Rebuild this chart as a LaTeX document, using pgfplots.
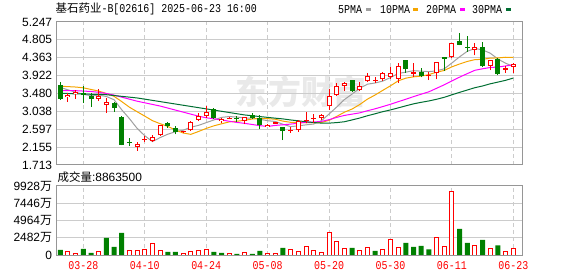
\documentclass[border=0pt]{standalone}
\usepackage{pgfplots}
\pgfplotsset{compat=1.18}
\usepackage{pgfplotstable}
\usepackage{fontspec}
\setmainfont{Liberation Sans}
\newfontfamily\cjk{Noto Sans CJK SC}
\newfontfamily\monof[FakeStretch=0.833]{Liberation Mono}

\definecolor{cred}{RGB}{255,0,0}
\definecolor{cgreen}{RGB}{0,128,0}
\definecolor{cma5}{RGB}{160,160,160}
\definecolor{cma10}{RGB}{245,165,0}
\definecolor{cma20}{RGB}{255,0,255}
\definecolor{cma30}{RGB}{0,110,50}
\definecolor{cgrid}{RGB}{204,204,204}
\definecolor{cframe}{RGB}{150,150,150}
\definecolor{cwm}{RGB}{233,233,233}

% up candles (close >= open): index open high low close
\pgfplotstableread{
i o h l c
1 3.40 3.49 3.28 3.45
2 3.47 3.57 3.35 3.52
5 3.35 3.59 3.29 3.43
6 3.19 3.37 3.01 3.28
10 2.17 2.29 2.06 2.23
11 2.34 2.44 2.28 2.36
12 2.31 2.46 2.29 2.40
13 2.45 2.70 2.44 2.70
16 2.52 2.55 2.50 2.54
17 2.57 2.80 2.55 2.78
18 2.83 2.99 2.80 2.92
19 2.92 3.17 2.88 3.02
21 2.81 2.87 2.74 2.86
22 2.85 2.89 2.84 2.88
24 2.81 2.91 2.72 2.90
27 2.66 2.72 2.65 2.71
28 2.735 2.77 2.73 2.765
30 2.56 2.66 2.51 2.58
31 2.57 2.83 2.54 2.80
32 2.81 3.02 2.74 2.83
33 2.85 2.98 2.75 2.87
34 2.88 2.98 2.83 2.95
35 3.16 3.59 3.08 3.41
36 3.45 3.75 3.42 3.67
37 3.67 3.77 3.55 3.75
39 3.56 3.77 3.55 3.67
40 3.78 3.98 3.77 3.91
41 3.80 3.90 3.75 3.82
42 3.83 4.00 3.80 3.98
43 3.90 4.14 3.85 3.99
44 3.84 4.24 3.75 4.17
46 3.96 4.23 3.90 4.00
48 3.91 4.00 3.81 3.93
49 3.99 4.27 3.83 4.27
51 4.37 4.74 4.35 4.72
54 4.56 4.72 4.42 4.62
56 4.16 4.31 4.06 4.31
58 4.07 4.15 3.99 4.10
59 4.14 4.24 3.98 4.22
}\redk

% down candles (close < open)
\pgfplotstableread{
i o h l c
0 3.69 3.76 3.33 3.35
3 3.49 3.67 3.25 3.45
4 3.43 3.48 3.15 3.35
7 3.24 3.27 3.02 3.12
8 2.91 2.93 2.20 2.21
9 2.28 2.38 2.18 2.26
14 2.74 2.78 2.63 2.68
15 2.62 2.67 2.47 2.54
20 3.10 3.11 2.86 2.87
23 2.88 2.93 2.78 2.86
25 2.95 2.99 2.86 2.87
26 2.87 2.94 2.61 2.70
29 2.64 2.66 2.33 2.55
38 3.81 3.82 3.52 3.55
45 4.30 4.32 3.99 4.08
47 4.02 4.11 3.88 3.92
50 4.37 4.37 4.04 4.33
52 4.77 4.98 4.67 4.68
53 4.62 4.90 4.51 4.615
55 4.62 4.76 4.13 4.15
57 4.33 4.36 3.93 3.96
}\greenk

% moving averages
\pgfplotstableread{
i ma5 ma10 ma20 ma30
0 3.63 3.66 3.55 3.48
1 3.57 3.65 3.55 3.48
2 3.51 3.64 3.55 3.47
3 3.46 3.62 3.54 3.47
4 3.424 3.58 3.53 3.46
5 3.44 3.54 3.51 3.46
6 3.406 3.48 3.48 3.45
7 3.326 3.41 3.44 3.43
8 3.078 3.28 3.39 3.41
9 2.86 3.142 3.34 3.39
10 2.62 3.03 3.29 3.37
11 2.436 2.921 3.25 3.34
12 2.292 2.809 3.21 3.31
13 2.39 2.734 3.17 3.28
14 2.474 2.667 3.12 3.25
15 2.536 2.578 3.07 3.22
16 2.572 2.504 3.02 3.19
17 2.648 2.47 2.97 3.16
18 2.692 2.541 2.92 3.13
19 2.76 2.617 2.880 3.10
20 2.826 2.681 2.856 3.07
21 2.89 2.731 2.826 3.04
22 2.91 2.779 2.794 3.01
23 2.898 2.795 2.765 2.98
24 2.874 2.817 2.742 2.95
25 2.874 2.85 2.714 2.93
26 2.842 2.866 2.685 2.91
27 2.808 2.859 2.665 2.89
28 2.789 2.844 2.692 2.87
29 2.719 2.797 2.707 2.852
30 2.661 2.768 2.724 2.826
31 2.681 2.762 2.746 2.805
32 2.705 2.757 2.768 2.782
33 2.726 2.758 2.776 2.762
34 2.806 2.763 2.790 2.749
35 2.972 2.817 2.833 2.748
36 3.146 2.914 2.890 2.761
37 3.33 3.018 2.938 2.782
38 3.466 3.096 2.970 2.827
39 3.61 3.208 3.002 2.874
40 3.71 3.341 3.054 2.930
41 3.74 3.443 3.102 2.979
42 3.786 3.558 3.157 3.031
43 3.874 3.67 3.214 3.074
44 3.974 3.792 3.277 3.124
45 4.008 3.859 3.338 3.175
46 4.044 3.892 3.403 3.224
47 4.032 3.909 3.463 3.262
48 4.02 3.947 3.522 3.296
49 4.04 4.007 3.608 3.337
50 4.09 4.049 3.695 3.386
51 4.234 4.139 3.791 3.448
52 4.386 4.209 3.884 3.508
53 4.523 4.272 3.971 3.566
54 4.593 4.317 4.054 3.624
55 4.557 4.324 4.091 3.666
56 4.475 4.355 4.123 3.720
57 4.331 4.359 4.134 3.762
58 4.228 4.376 4.161 3.806
59 4.148 4.371 4.189 3.862
}\matab

% volume (in 10k shares)
\pgfplotstableread{
i v
1 434
2 145
5 434
9 675
10 578
11 723
12 1591
13 675
16 145
17 434
18 675
19 819
22 145
24 289
27 145
28 145
30 819
31 530
32 1253
33 675
34 289
35 3278
36 1976
37 964
39 675
40 1109
42 819
43 2265
44 1109
49 2555
50 1253
51 9206
54 1398
56 964
58 530
59 886
}\redv

\pgfplotstableread{
i v
0 723
3 868
4 289
6 2458
7 1157
8 3181
14 434
15 434
20 434
21 289
23 145
25 145
26 578
29 1012
38 1012
41 578
45 1735
46 1157
47 1301
48 819
52 3760
53 1735
55 2169
57 1398
}\greenv

\pgfplotsset{
  kstyle/.style={
    scale only axis, width=466bp,
    xmin=-0.56, xmax=60.13,
    axis line style={draw=cframe, line width=1bp},
    major tick length=0pt,
    xtick={3,11,19,27,35,43,51,59},
    xmajorgrids, ymajorgrids,
    x grid style={draw=cgrid, dash pattern=on 4bp off 3bp, line width=1bp},
    y grid style={draw=cgrid, line width=1bp},
    yticklabel style={font=\fontsize{12}{12}\selectfont, inner sep=0pt, xshift=-3.7bp},
  },
  wick/.style={draw=none, mark=none, forget plot,
    error bars/.cd, y dir=plus, y explicit, error mark=none,
    error bar style={draw=#1, line width=1bp}},
  body/.style 2 args={draw=none, mark=none, forget plot,
    error bars/.cd, y dir=plus, y explicit, error mark=none,
    error bar style={draw=#1, line width=#2}},
}

\begin{document}
\begin{tikzpicture}
\useasboundingbox (0bp,0bp) rectangle (578bp,276bp);

% watermark
\node[text=cwm, font=\cjk\bfseries\fontsize{33}{33}\selectfont] at (301bp,184bp) {东方财富};

% title
\node[anchor=west, inner sep=0pt] at (55.5bp,267bp) {{\cjk\fontsize{11.5}{12}\selectfont 基石药业}{\monof\fontsize{12}{12}\selectfont -B[02616] 2025-06-23 16:00}};

% legend
\begin{scope}[every node/.style={anchor=west, inner sep=0pt, font=\monof\fontsize{12}{12}\selectfont}]
\node at (338bp,266.5bp) {5PMA};
\draw[cma5, line width=2.5bp] (366bp,266.5bp) -- (371bp,266.5bp);
\node at (380bp,266.5bp) {10PMA};
\draw[cma10, line width=2.5bp] (413bp,266.5bp) -- (418bp,266.5bp);
\node at (426bp,266.5bp) {20PMA};
\draw[cma20, line width=2.5bp] (460bp,266.5bp) -- (465bp,266.5bp);
\node at (472bp,266.5bp) {30PMA};
\draw[cma30, line width=2.5bp] (506bp,266.5bp) -- (511bp,266.5bp);
\end{scope}

% price panel
\begin{axis}[kstyle, at={(56bp,111bp)}, anchor=south west, height=143bp,
  ymin=1.713, ymax=5.247,
  ytick={1.713,2.155,2.597,3.038,3.480,3.922,4.363,4.805,5.247},
  yticklabels={1.713,2.155,2.597,3.038,3.480,3.922,4.363,4.805,5.247},
  xticklabels={}]
\addplot[cma5, line width=1bp, mark=none] table[x=i, y=ma5] {\matab};
\addplot[cma10, line width=1bp, mark=none] table[x=i, y=ma10] {\matab};
\addplot[cma20, line width=1bp, mark=none] table[x=i, y=ma20] {\matab};
\addplot[cma30, line width=1bp, mark=none] table[x=i, y=ma30] {\matab};
% wicks
\addplot[wick=cred] table[x=i, y=l, y error plus expr=\thisrow{h}-\thisrow{l}] {\redk};
\addplot[wick=cgreen] table[x=i, y=l, y error plus expr=\thisrow{h}-\thisrow{l}] {\greenk};
% bodies
\addplot[body={cred}{5bp}] table[x=i, y=o, y error plus expr={max(\thisrow{c}-\thisrow{o},0.025)}] {\redk};
\addplot[body={white}{3bp}] table[x=i, y expr=\thisrow{o}+0.0247, y error plus expr={max(\thisrow{c}-\thisrow{o}-0.0494,0)}] {\redk};
\addplot[body={cgreen}{5bp}] table[x=i, y=c, y error plus expr={max(\thisrow{o}-\thisrow{c},0.025)}] {\greenk};
\end{axis}

% volume panel
\node[anchor=west, inner sep=0pt] at (57.5bp,99bp) {{\cjk\fontsize{11.5}{12}\selectfont 成交量}{\fontsize{12}{12}\selectfont :8863500}};
\begin{axis}[kstyle, at={(56bp,21bp)}, anchor=south west, height=69bp,
  ymin=0, ymax=9928,
  ytick={0,2482,4964,7446,9928},
  yticklabels={0,2482{\cjk 万},4964{\cjk 万},7446{\cjk 万},9928{\cjk 万}},
  xticklabels={03-28,04-10,04-24,05-08,05-20,05-30,06-11,06-23},
  xticklabel style={font=\monof\fontsize{12}{12}\selectfont, text=cred, inner sep=0pt, yshift=-6bp}]
\addplot[ybar, bar width=4bp, bar shift=0pt, fill=white, draw=cred, line width=1bp] table[x=i, y=v] {\redv};
\addplot[ybar, bar width=5bp, bar shift=0pt, fill=cgreen, draw=none] table[x=i, y=v] {\greenv};
\end{axis}
\end{tikzpicture}
\end{document}
